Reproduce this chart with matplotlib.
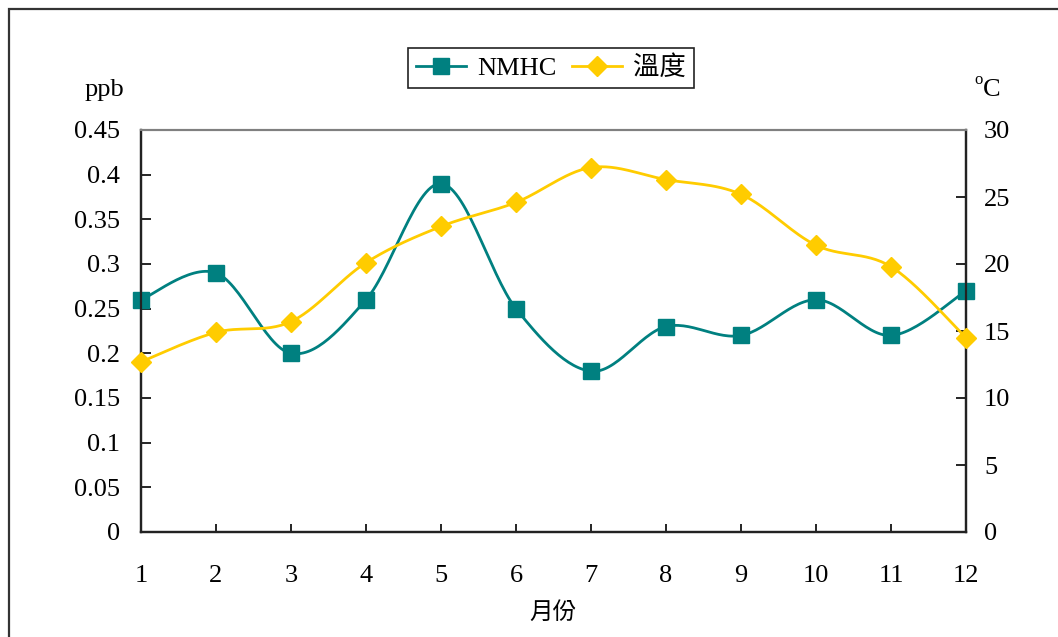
import numpy as np
import matplotlib
matplotlib.use("Agg")
import matplotlib.pyplot as plt
from matplotlib.lines import Line2D
from matplotlib.patches import Rectangle

months = [1, 2, 3, 4, 5, 6, 7, 8, 9, 10, 11, 12]
nmhc = [0.26, 0.29, 0.20, 0.26, 0.39, 0.25, 0.18, 0.23, 0.22, 0.26, 0.22, 0.27]
temp = [12.7, 14.9, 15.7, 20.1, 22.8, 24.6, 27.2, 26.3, 25.2, 21.4, 19.8, 14.5]
left_ticks = [0, 0.05, 0.1, 0.15, 0.2, 0.25, 0.3, 0.35, 0.4, 0.45]
left_labels = ["0", "0.05", "0.1", "0.15", "0.2", "0.25", "0.3", "0.35", "0.4", "0.45"]
right_ticks = [0, 5, 10, 15, 20, 25, 30]

TEAL = "#008080"
GOLD = "#FFCC00"
SERIF = ["Liberation Serif", "DejaVu Serif"]
CJK = ["Noto Sans CJK TC", "DejaVu Sans"]
FS = 19


def smooth(x, y, n=30):
    """Catmull-Rom (Excel-style) smoothing between given points for drawing."""
    x = np.asarray(x, float)
    y = np.asarray(y, float)
    xs, ys = [], []
    m = len(x)
    for i in range(m - 1):
        p0 = i - 1 if i > 0 else 0
        p3 = i + 2 if i + 2 < m else m - 1
        c1x = x[i] + (x[i + 1] - x[p0]) / 6
        c1y = y[i] + (y[i + 1] - y[p0]) / 6
        c2x = x[i + 1] - (x[p3] - x[i]) / 6
        c2y = y[i + 1] - (y[p3] - y[i]) / 6
        t = np.linspace(0, 1, n, endpoint=(i == m - 2))
        b0 = (1 - t) ** 3
        b1 = 3 * (1 - t) ** 2 * t
        b2 = 3 * (1 - t) * t ** 2
        b3 = t ** 3
        xs.append(b0 * x[i] + b1 * c1x + b2 * c2x + b3 * x[i + 1])
        ys.append(b0 * y[i] + b1 * c1y + b2 * c2y + b3 * y[i + 1])
    return np.concatenate(xs), np.concatenate(ys)


fig = plt.figure(figsize=(10.58, 6.37), dpi=100)
ax = fig.add_axes([141 / 1058, 1 - 532 / 637, (966 - 141) / 1058, (532 - 130) / 637])
ax2 = ax.twinx()

sx, sy = smooth(months, nmhc)
ax.plot(sx, sy, color=TEAL, lw=2.0, zorder=3)
ax.plot(months, nmhc, ls="none", marker="s", ms=11.5, color=TEAL, zorder=4, clip_on=False)

tx, ty = smooth(months, temp)
ax2.plot(tx, ty, color=GOLD, lw=2.0, zorder=3)
ax2.plot(months, temp, ls="none", marker="D", ms=10.5, color=GOLD, zorder=4, clip_on=False)

ax.set_xlim(1, 12)
ax.set_ylim(0, 0.45)
ax2.set_ylim(0, 30)
ax.set_xticks(months)
ax.set_xticklabels([str(m) for m in months], fontfamily=SERIF, fontsize=FS)
ax.set_yticks(left_ticks)
ax.set_yticklabels(left_labels, fontfamily=SERIF, fontsize=FS)
ax2.set_yticks(right_ticks)
ax2.set_yticklabels([str(v) for v in right_ticks], fontfamily=SERIF, fontsize=FS)

ax.tick_params(axis="x", direction="in", length=6, width=1.2, pad=24)
ax.tick_params(axis="y", direction="in", length=7, width=1.2, pad=15)
ax2.tick_params(axis="y", direction="in", length=7, width=1.2, pad=13)

for a in (ax, ax2):
    a.spines["top"].set_color("#808080")
    a.spines["top"].set_linewidth(1.5)
    for s in ("left", "right", "bottom"):
        a.spines[s].set_color("#222222")
        a.spines[s].set_linewidth(1.6)

fig.text(104 / 1058, 1 - 90 / 637, "ppb", ha="center", va="center", fontfamily=SERIF, fontsize=FS)
fig.text(979 / 1058, 1 - 80 / 637, "o", ha="center", va="center", fontfamily=SERIF, fontsize=12)
fig.text(992 / 1058, 1 - 90 / 637, "C", ha="center", va="center", fontfamily=SERIF, fontsize=FS)
fig.text(553 / 1058, 1 - 612 / 637, "月份", ha="center", va="center", fontfamily=CJK, fontsize=17)

handles = [
    Line2D([], [], color=TEAL, lw=2.0, marker="s", ms=11.5),
    Line2D([], [], color=GOLD, lw=2.0, marker="D", ms=10.5),
]
leg = fig.legend(handles, ["NMHC", "溫度"], loc="center", bbox_to_anchor=(551 / 1058, 1 - 68 / 637),
                 ncol=2, frameon=True, fancybox=False, edgecolor="#222222", framealpha=1,
                 prop={"family": ["Liberation Serif", "Noto Sans CJK TC"], "size": FS},
                 handlelength=1.9, columnspacing=0.6, handletextpad=0.4, borderpad=0.3)
leg.get_frame().set_linewidth(1.2)

fig.patches.append(Rectangle((9 / 1058, -0.05), 1.1, 1 - 9 / 637 + 0.05, transform=fig.transFigure,
                             fill=False, edgecolor="#333333", lw=1.6, zorder=0))

fig.savefig("out.png", dpi=100)
